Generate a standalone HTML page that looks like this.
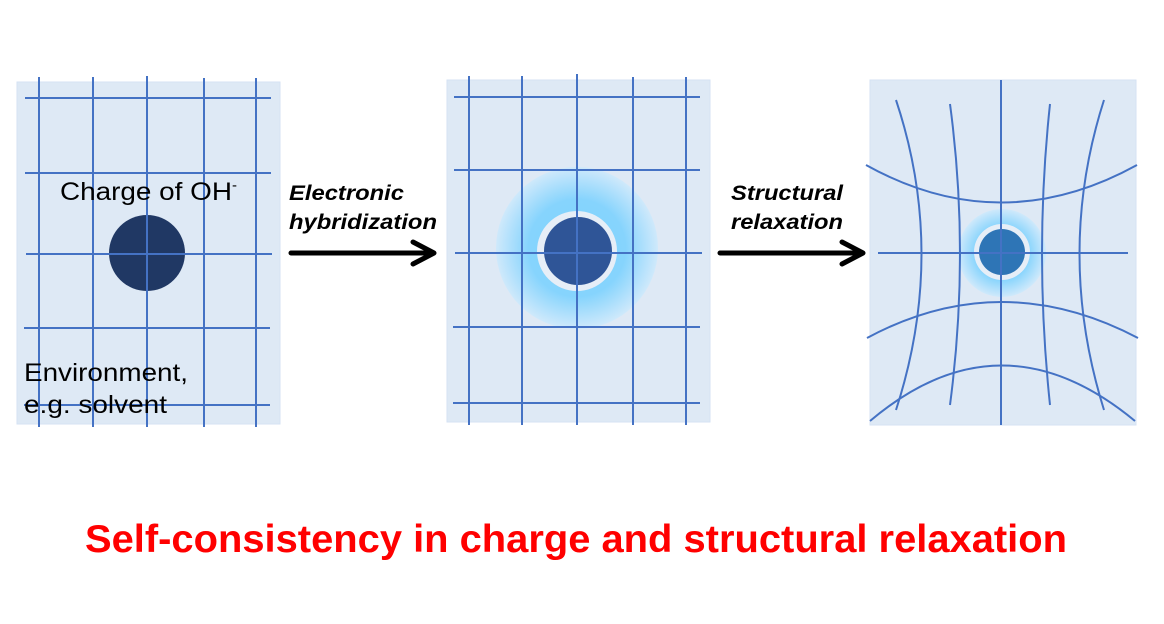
<!DOCTYPE html>
<html><head><style>
html,body{margin:0;padding:0;background:#fff;}
svg{display:block;}
</style></head><body>
<svg width="1164" height="624" viewBox="0 0 1164 624" xmlns="http://www.w3.org/2000/svg">
<defs>
<radialGradient id="g1" cx="0.5" cy="0.5" r="0.5">
<stop offset="0" stop-color="#7fd3fd"/><stop offset="0.6" stop-color="#86d4fd"/><stop offset="1" stop-color="#cfe9fb"/>
</radialGradient>
</defs>
<g stroke="#4472c4" stroke-width="2" fill="none">
<rect x="17" y="82" width="263" height="342" fill="#dee9f5" stroke="#d5e2f3" stroke-width="1"/>
<path d="M39 77V427M93 77V427M147 76V427M204 78V427M256 78V427"/>
<path d="M25 98H271M25 173H271M26 254H272M24 328H270M24 405H270"/>
</g>
<circle cx="147" cy="253" r="38" fill="#203864"/>
<path d="M147 215V291M109 254H185" stroke="#4472c4" stroke-width="2"/>

<rect x="447" y="80" width="263" height="342" fill="#dee9f5" stroke="#d5e2f3"/>
<circle cx="577" cy="248" r="81" fill="url(#g1)"/>
<circle cx="577" cy="251" r="40" fill="#e6eef7"/>
<circle cx="578" cy="251" r="34" fill="#2f5597"/>
<g stroke="#4472c4" stroke-width="2" fill="none">
<path d="M469 76V425M522 76V425M577 74V425M633 77V425M686 77V425"/>
<path d="M454 97H700M454 170H700M455 253H702M453 327H700M453 403H700"/>
</g>

<rect x="870" y="80" width="266" height="345" fill="#dee9f5" stroke="#d5e2f3"/>
<circle cx="1002" cy="253" r="44" fill="url(#g1)"/>
<circle cx="1002" cy="252" r="28" fill="#e6eef7"/>
<circle cx="1002" cy="252" r="23" fill="#2e75b6"/>
<g stroke="#4472c4" stroke-width="2" fill="none">
<path d="M1001 80V425M878 253H1128"/>
<path d="M866 165Q1001 240 1137 165"/>
<path d="M867 338Q1001 266 1138 338"/>
<path d="M870 421Q1001 310 1135 421"/>
<path d="M896 100Q947 253 896 410"/>
<path d="M950 104Q970 253 950 405"/>
<path d="M1050 104Q1034 253 1050 405"/>
<path d="M1104 100Q1055 253 1104 410"/>
</g>

<g stroke="#000" stroke-width="5" fill="none" stroke-linecap="round" stroke-linejoin="round">
<path d="M291 253H432M413 242L434 253L413 264"/>
<path d="M720 253H861M842 242L863 253L842 264"/>
</g>
<g font-family="Liberation Sans, sans-serif" font-size="21" font-weight="bold" font-style="italic" fill="#000" lengthAdjust="spacingAndGlyphs">
<text x="289" y="200" textLength="115" lengthAdjust="spacingAndGlyphs">Electronic</text>
<text x="289" y="229" textLength="148" lengthAdjust="spacingAndGlyphs">hybridization</text>
<text x="731" y="200" textLength="112" lengthAdjust="spacingAndGlyphs">Structural</text>
<text x="731" y="229" textLength="112" lengthAdjust="spacingAndGlyphs">relaxation</text>
</g>
<g font-family="Liberation Sans, sans-serif" font-size="25" fill="#000">
<text x="60" y="200"><tspan textLength="172" lengthAdjust="spacingAndGlyphs">Charge of OH</tspan><tspan font-size="15" dy="-10">-</tspan></text>
<text x="24" y="381" textLength="164" lengthAdjust="spacingAndGlyphs">Environment,</text>
<text x="24" y="413" textLength="143" lengthAdjust="spacingAndGlyphs">e.g. solvent</text>
</g>
<text x="85" y="552" textLength="982" lengthAdjust="spacingAndGlyphs" font-family="Liberation Sans, sans-serif" font-size="39" font-weight="bold" fill="#ff0000">Self-consistency in charge and structural relaxation</text>
</svg>
</body></html>
